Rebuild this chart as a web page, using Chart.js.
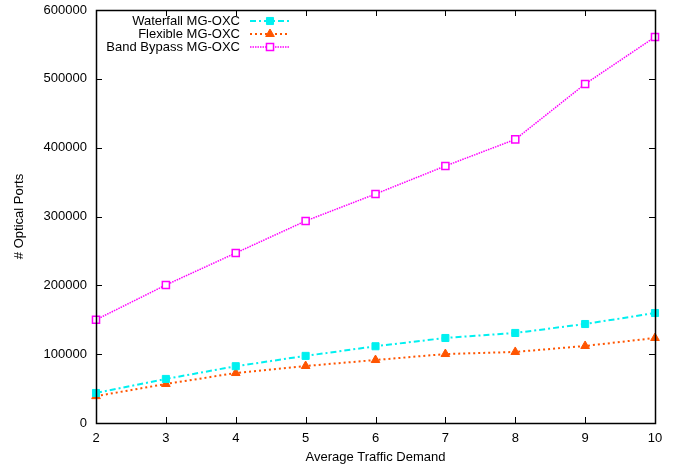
<!DOCTYPE html>
<html>
<head>
<meta charset="utf-8">
<script src="https://cdn.jsdelivr.net/npm/chart.js@4/dist/chart.umd.min.js"></script>
<style>
html,body{margin:0;padding:0;background:#fff;}
#wrap{width:678px;height:468px;position:relative;}
</style>
</head>
<body>
<div id="wrap"><canvas id="c" width="678" height="468"></canvas></div>
<script>
const demand = [2, 3, 4, 5, 6, 7, 8, 9, 10];
const waterfall = [43600, 64000, 82500, 97500, 111500, 123500, 130800, 143800, 159800];
const flexible = [39000, 56700, 72600, 82800, 91500, 100200, 103200, 111900, 123500];
const bandBypass = [150000, 200500, 247000, 293500, 332700, 373400, 412000, 492500, 560800];
const seriesNames = ['Waterfall MG-OXC', 'Flexible MG-OXC', 'Band Bypass MG-OXC'];
const yTicks = [0, 100000, 200000, 300000, 400000, 500000, 600000];
const xTicks = [2, 3, 4, 5, 6, 7, 8, 9, 10];

const FONT = 'Liberation Sans, Arial, sans-serif';

function pts(vals){ return demand.map((d,i)=>({x:d,y:vals[i]})); }

const frame = {
  id:'frame',
  afterDraw(chart){
    const {ctx, chartArea:a, scales:{x,y}} = chart;
    ctx.save();
    ctx.strokeStyle = '#000';
    ctx.lineWidth = 1;
    const t = 6;
    ctx.beginPath();
    yTicks.forEach(v=>{
      const py = Math.round(y.getPixelForValue(v))+0.5;
      ctx.moveTo(a.left, py); ctx.lineTo(a.left+t, py);
      ctx.moveTo(a.right, py); ctx.lineTo(a.right-t, py);
    });
    xTicks.forEach(v=>{
      const px = Math.round(x.getPixelForValue(v))+0.5;
      ctx.moveTo(px, a.bottom); ctx.lineTo(px, a.bottom-t);
      ctx.moveTo(px, a.top); ctx.lineTo(px, a.top+t);
    });
    ctx.stroke();
    ctx.lineWidth = 1.5;
    ctx.strokeRect(Math.round(a.left)+0.5, Math.round(a.top)+0.5, Math.round(a.right-a.left), Math.round(a.bottom-a.top));
    // legend (gnuplot style)
    ctx.font = '13px ' + FONT;
    ctx.textAlign = 'right';
    ctx.textBaseline = 'middle';
    chart.data.datasets.forEach((ds,i)=>{
      const yy = 21 + i*13;
      ctx.fillStyle = '#000';
      ctx.fillText(ds.label, 240, yy);
      ctx.save();
      ctx.strokeStyle = ds.borderColor;
      ctx.lineWidth = ds.borderWidth;
      ctx.setLineDash(ds.borderDash || []);
      ctx.beginPath(); ctx.moveTo(250, yy); ctx.lineTo(290, yy); ctx.stroke();
      ctx.setLineDash([]);
      ctx.fillStyle = ds.pointBackgroundColor;
      ctx.strokeStyle = ds.pointBorderColor;
      ctx.lineWidth = ds.pointBorderWidth;
      Chart.helpers.drawPoint(ctx, {pointStyle: ds.pointStyle, radius: ds.pointRadius, rotation:0, borderWidth: ds.pointBorderWidth}, 270, yy);
      ctx.restore();
    });
    ctx.restore();
  }
};

new Chart(document.getElementById('c'), {
  type: 'line',
  data: {
    datasets: [
      {
        label: seriesNames[0], data: pts(waterfall),
        borderColor: '#00f0f0', borderWidth: 2, borderDash: [6,3,2,3],
        pointStyle: 'rect', pointRadius: 5, pointBackgroundColor: '#00f0f0', pointBorderColor: '#00f0f0', pointBorderWidth: 1,
        fill: false, tension: 0, clip: false
      },
      {
        label: seriesNames[1], data: pts(flexible),
        borderColor: '#ff5500', borderWidth: 2, borderDash: [2,3],
        pointStyle: 'triangle', pointRadius: 5, pointBackgroundColor: '#ff5500', pointBorderColor: '#ff5500', pointBorderWidth: 1,
        fill: false, tension: 0, clip: false
      },
      {
        label: seriesNames[2], data: pts(bandBypass),
        borderColor: '#ff00ff', borderWidth: 1.5, borderDash: [1.5,1],
        pointStyle: 'rect', pointRadius: 5, pointBackgroundColor: '#ffffff', pointBorderColor: '#ff00ff', pointBorderWidth: 1.5,
        fill: false, tension: 0, clip: false
      }
    ]
  },
  options: {
    responsive: false,
    animation: false,
    devicePixelRatio: 1,
    layout: { padding: { top: 10, right: 23, left: 0, bottom: 0 } },
    plugins: { legend: { display: false }, tooltip: { enabled: false } },
    scales: {
      x: {
        type: 'linear', min: 2, max: 10,
        afterFit(s){ s.height = 45; s.paddingLeft = 0; s.paddingRight = 0; },
        afterBuildTicks(s){ s.ticks = xTicks.map(v=>({value:v})); },
        grid: { display: false, drawTicks: false },
        border: { display: false },
        ticks: { padding: 8, color: '#000', font: { family: FONT, size: 13 }, maxRotation: 0 },
        title: { display: true, text: 'Average Traffic Demand', color: '#000', font: { family: FONT, size: 13 }, padding: { top: 0, bottom: 3 } }
      },
      y: {
        type: 'linear', min: 0, max: 600000,
        afterFit(s){ s.width = 96; s.paddingTop = 0; s.paddingBottom = 0; },
        afterBuildTicks(s){ s.ticks = yTicks.map(v=>({value:v})); },
        grid: { display: false, drawTicks: false },
        border: { display: false },
        ticks: { padding: 9, color: '#000', font: { family: FONT, size: 13 }, callback: v => String(v) },
        title: { display: true, text: '# Optical Ports', color: '#000', font: { family: FONT, size: 13 }, padding: { top: 12, bottom: 0 } }
      }
    }
  },
  plugins: [frame]
});
</script>
</body>
</html>
